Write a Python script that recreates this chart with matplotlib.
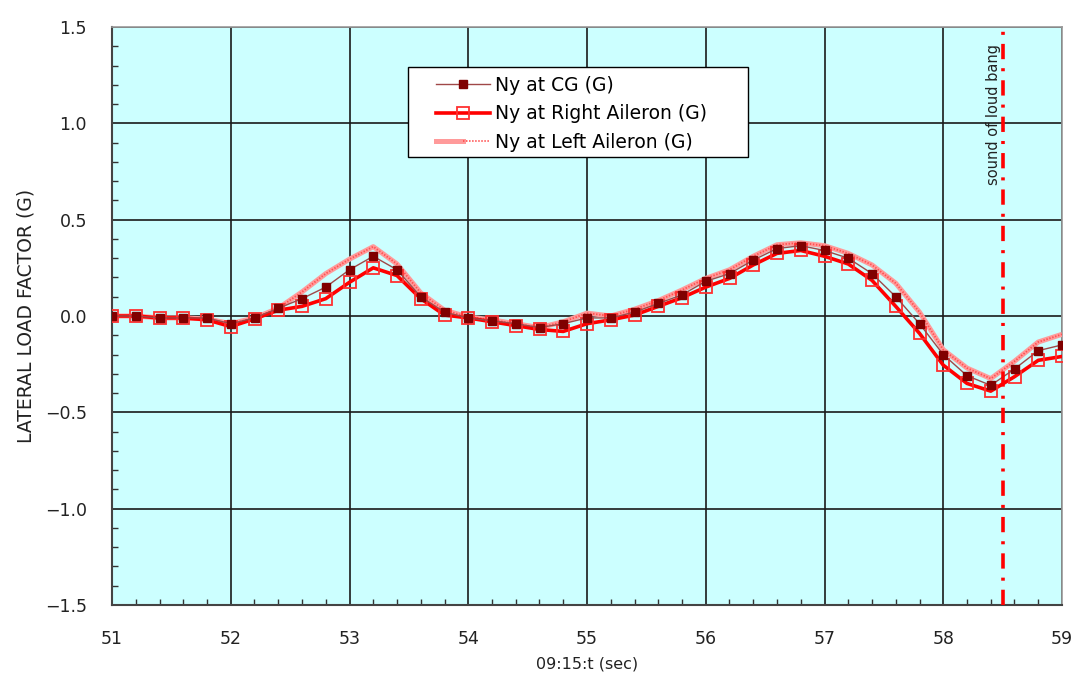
import matplotlib
matplotlib.use("Agg")
import matplotlib.pyplot as plt
from matplotlib.ticker import MultipleLocator, FuncFormatter
from matplotlib.lines import Line2D
from matplotlib.legend_handler import HandlerTuple
from matplotlib.patches import Rectangle

plt.rcParams['lines.scale_dashes'] = False
plt.rcParams['font.family'] = ['DejaVu Sans']

time_s = [51.0, 51.2, 51.4, 51.6, 51.8, 52.0, 52.2, 52.4, 52.6, 52.8,
          53.0, 53.2, 53.4, 53.6, 53.8, 54.0, 54.2, 54.4, 54.6, 54.8,
          55.0, 55.2, 55.4, 55.6, 55.8, 56.0, 56.2, 56.4, 56.6, 56.8,
          57.0, 57.2, 57.4, 57.6, 57.8, 58.0, 58.2, 58.4, 58.6, 58.8, 59.0]

ny_cg = [0.00, 0.00, -0.01, -0.01, -0.01, -0.04, -0.01, 0.04, 0.09, 0.15,
         0.24, 0.31, 0.24, 0.10, 0.02, -0.01, -0.025, -0.04, -0.06, -0.04,
         -0.01, -0.01, 0.02, 0.065, 0.11, 0.18, 0.22, 0.29, 0.35, 0.365,
         0.34, 0.30, 0.22, 0.10, -0.04, -0.20, -0.31, -0.36, -0.275, -0.18, -0.15]

ny_right = [0.00, 0.00, -0.01, -0.01, -0.02, -0.055, -0.015, 0.03, 0.05, 0.09,
            0.175, 0.25, 0.21, 0.09, 0.005, -0.01, -0.03, -0.05, -0.07, -0.08,
            -0.04, -0.02, 0.005, 0.05, 0.095, 0.15, 0.195, 0.265, 0.325, 0.34,
            0.31, 0.27, 0.185, 0.05, -0.09, -0.255, -0.35, -0.39, -0.315, -0.23, -0.21]

ny_left = [0.00, 0.00, -0.01, -0.01, -0.015, -0.04, -0.01, 0.04, 0.125, 0.22,
           0.295, 0.36, 0.27, 0.12, 0.03, -0.005, -0.02, -0.04, -0.06, -0.03,
           0.015, 0.00, 0.035, 0.08, 0.135, 0.195, 0.24, 0.31, 0.37, 0.38,
           0.365, 0.325, 0.265, 0.17, 0.02, -0.175, -0.27, -0.325, -0.235, -0.135, -0.095]

series_labels = ["Ny at CG (G)", "Ny at Right Aileron (G)", "Ny at Left Aileron (G)"]
bang_time = 58.5
bang_label = "sound of loud bang"
x_label = "09:15:t (sec)"
y_label = "LATERAL LOAD FACTOR (G)"

W, H = 1074, 686
AX_L, AX_R, AX_T, AX_B = 112, 1062, 27, 605

fig = plt.figure(figsize=(W/100, H/100), dpi=100)
ax = fig.add_axes([AX_L/W, (H-AX_B)/H, (AX_R-AX_L)/W, (AX_B-AX_T)/H])
ax.set_facecolor('#CCFFFF')

# Left aileron: thick pink hatched-looking line
l_left, = ax.plot(time_s, ny_left, color='#FF9A9A', lw=3.6, zorder=3,
                  solid_capstyle='butt')
ax.plot(time_s, ny_left, color='#FF5050', lw=1.3, ls=(0, (1, 1.2)), zorder=3.1)
# Right aileron
l_right, = ax.plot(time_s, ny_right, color='#FF0000', lw=2.6, marker='s', ms=9,
                   mfc='none', mec='#FF3030', mew=1.3, zorder=4)
# CG
l_cg, = ax.plot(time_s, ny_cg, color='#A04848', lw=1.0, marker='s', ms=5.5,
                mfc='#800000', mec='#800000', zorder=5)

# Legend frame drawn as a rectangle (figure pixels -> axes fraction)
def ax_frac(px, py):
    return ((px - AX_L) / (AX_R - AX_L), (AX_B - py) / (AX_B - AX_T))

x0, y1 = ax_frac(408, 67)
x1, y0 = ax_frac(748, 157)
frame = Rectangle((x0, y0), x1 - x0, y1 - y0, transform=ax.transAxes,
                  facecolor='white', edgecolor='black', lw=1.0, zorder=9)
ax.add_patch(frame)

left_proxy = (Line2D([], [], color='#FF9A9A', lw=3.6),
              Line2D([], [], color='#FF5050', lw=1.3, ls=(0, (1, 1.2))))
lx, ly = ax_frac(436, 76)
leg = ax.legend([l_cg, l_right, left_proxy], series_labels,
                handler_map={tuple: HandlerTuple(ndivide=None, pad=0)},
                loc='upper left', bbox_to_anchor=(lx, ly),
                frameon=False, fontsize=13.5, handlelength=2.9, borderpad=0,
                labelspacing=0.5, borderaxespad=0, handletextpad=0.25)
leg.set_zorder(10)

# Vertical bang line
vl = ax.axvline(bang_time, color='#FF0000', lw=2.6, zorder=6)
vl.set_dashes([11, 6.5, 2.2, 6.5])
ax.text(bang_time - 0.075, 1.41, bang_label, rotation=90, ha='center', va='top',
        fontsize=10.5, color='#222222', zorder=7)

ax.set_xlim(51, 59)
ax.set_ylim(-1.5, 1.5)
ax.xaxis.set_major_locator(MultipleLocator(1))
ax.xaxis.set_minor_locator(MultipleLocator(0.2))
ax.yaxis.set_major_locator(MultipleLocator(0.5))
ax.yaxis.set_minor_locator(MultipleLocator(0.1))
ax.yaxis.set_major_formatter(FuncFormatter(lambda v, p: ('%.1f' % v).replace('-', '\u2212')))
ax.xaxis.set_major_formatter(FuncFormatter(lambda v, p: '%d' % round(v)))

ax.grid(True, which='major', color='#1a1a1a', lw=1.2, zorder=1)
ax.set_axisbelow(True)
ax.tick_params(which='major', length=0, pad=18, labelsize=12.5, labelcolor='#222222')
ax.tick_params(which='minor', direction='in', length=4, width=1, color='#333333')

for s in ['left', 'bottom']:
    ax.spines[s].set_color('#444444')
    ax.spines[s].set_linewidth(1.5)
for s in ['top', 'right']:
    ax.spines[s].set_color('#999999')
    ax.spines[s].set_linewidth(1.2)

ax.set_xlabel(x_label, fontsize=11.5, color='#222222', labelpad=6)
ax.set_ylabel(y_label, fontsize=13.5, color='#222222', labelpad=7)

fig.savefig('out.png', dpi=100, facecolor='white')
